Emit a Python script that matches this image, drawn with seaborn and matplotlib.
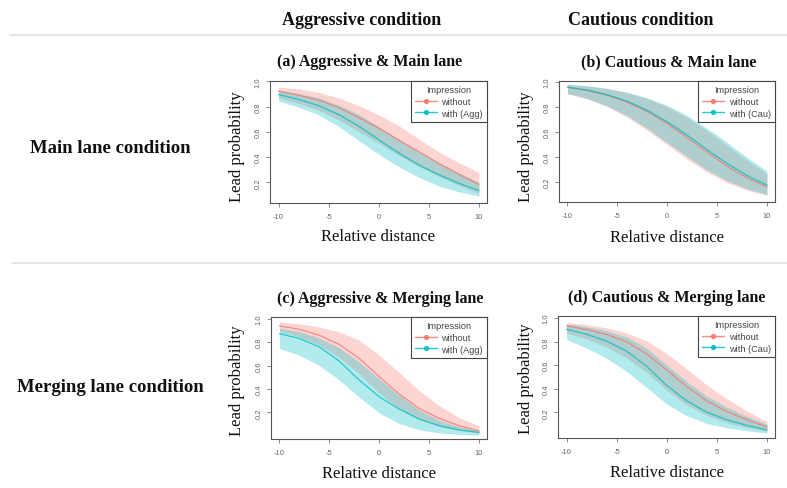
import numpy as np
import pandas as pd
import matplotlib
matplotlib.use("Agg")
import matplotlib.pyplot as plt
from matplotlib.lines import Line2D
import seaborn as sns

# ---------------- data ----------------
x_vals = [-10, -8, -6, -4, -2, 0, 2, 4, 6, 8, 10]
x_ticks = [-10, -5, 0, 5, 10]
x_tick_labels = ["-10", "-5", "0", "5", "10"]
y_ticks = [0.2, 0.4, 0.6, 0.8, 1.0]
y_tick_labels = ["0.2", "0.4", "0.6", "0.8", "1.0"]

col_headers = ["Aggressive condition", "Cautious condition"]
row_headers = ["Main lane condition", "Merging lane condition"]
titles = ["(a) Aggressive & Main lane", "(b) Cautious & Main lane",
          "(c) Aggressive & Merging lane", "(d) Cautious & Merging lane"]
legend_title = "Impression"
series_labels = [["without", "with (Agg)"], ["without", "with (Cau)"],
                 ["without", "with (Agg)"], ["without", "with (Cau)"]]
xlabel = "Relative distance"
ylabel = "Lead probability"

# (a) Aggressive & Main lane
a_without = [0.922, 0.891, 0.852, 0.792, 0.714, 0.630, 0.534, 0.443, 0.349, 0.265, 0.182]
a_without_hi = [0.956, 0.941, 0.912, 0.870, 0.808, 0.735, 0.649, 0.544, 0.440, 0.356, 0.278]
a_without_lo = [0.870, 0.825, 0.772, 0.694, 0.603, 0.510, 0.413, 0.325, 0.246, 0.175, 0.112]
a_with = [0.896, 0.857, 0.808, 0.737, 0.645, 0.537, 0.432, 0.338, 0.260, 0.192, 0.135]
a_with_hi = [0.931, 0.904, 0.869, 0.813, 0.739, 0.640, 0.540, 0.445, 0.354, 0.271, 0.200]
a_with_lo = [0.844, 0.795, 0.735, 0.643, 0.531, 0.422, 0.323, 0.239, 0.170, 0.125, 0.090]

# (b) Cautious & Main lane
b_without = [0.954, 0.929, 0.891, 0.835, 0.760, 0.664, 0.552, 0.435, 0.323, 0.230, 0.157]
b_without_hi = [0.979, 0.965, 0.944, 0.911, 0.864, 0.799, 0.713, 0.608, 0.490, 0.371, 0.263]
b_without_lo = [0.904, 0.861, 0.799, 0.715, 0.611, 0.495, 0.380, 0.277, 0.192, 0.131, 0.089]
b_with = [0.956, 0.932, 0.895, 0.843, 0.770, 0.679, 0.572, 0.455, 0.345, 0.248, 0.172]
b_with_hi = [0.980, 0.966, 0.946, 0.915, 0.871, 0.810, 0.729, 0.627, 0.515, 0.394, 0.285]
b_with_lo = [0.906, 0.865, 0.805, 0.727, 0.625, 0.512, 0.399, 0.293, 0.208, 0.143, 0.098]

# (c) Aggressive & Merging lane
c_without = [0.938, 0.909, 0.858, 0.779, 0.660, 0.504, 0.356, 0.234, 0.149, 0.087, 0.041]
c_without_hi = [0.972, 0.955, 0.929, 0.887, 0.816, 0.688, 0.540, 0.387, 0.257, 0.155, 0.087]
c_without_lo = [0.890, 0.845, 0.775, 0.668, 0.530, 0.365, 0.232, 0.140, 0.080, 0.045, 0.022]
c_with = [0.872, 0.830, 0.759, 0.637, 0.475, 0.333, 0.228, 0.143, 0.087, 0.050, 0.030]
c_with_hi = [0.920, 0.890, 0.835, 0.752, 0.630, 0.485, 0.345, 0.222, 0.135, 0.078, 0.045]
c_with_lo = [0.745, 0.688, 0.600, 0.475, 0.330, 0.195, 0.105, 0.052, 0.025, 0.011, 0.005]

# (d) Cautious & Merging lane
d_without = [0.933, 0.902, 0.860, 0.798, 0.695, 0.559, 0.419, 0.298, 0.208, 0.138, 0.076]
d_without_hi = [0.961, 0.944, 0.916, 0.874, 0.805, 0.699, 0.567, 0.433, 0.315, 0.213, 0.124]
d_without_lo = [0.873, 0.821, 0.754, 0.661, 0.540, 0.387, 0.263, 0.174, 0.115, 0.074, 0.039]
d_with = [0.904, 0.862, 0.803, 0.719, 0.590, 0.428, 0.298, 0.202, 0.138, 0.090, 0.053]
d_with_hi = [0.950, 0.926, 0.892, 0.838, 0.745, 0.600, 0.460, 0.338, 0.244, 0.167, 0.102]
d_with_lo = [0.816, 0.746, 0.659, 0.547, 0.411, 0.270, 0.172, 0.107, 0.070, 0.045, 0.026]

panel_data = [
    (a_without, a_without_lo, a_without_hi, a_with, a_with_lo, a_with_hi),
    (b_without, b_without_lo, b_without_hi, b_with, b_with_lo, b_with_hi),
    (c_without, c_without_lo, c_without_hi, c_with, c_with_lo, c_with_hi),
    (d_without, d_without_lo, d_without_hi, d_with, d_with_lo, d_with_hi),
]

# ---------------- layout / style ----------------
W, H = 787, 489
RED = "#F8766D"
TEAL = "#00BFC4"
SERIF = ["Liberation Serif", "DejaVu Serif"]
SANS = ["Liberation Sans", "DejaVu Sans"]

sns.set_style("white")
plt.rcParams["font.family"] = SANS

fig = plt.figure(figsize=(W / 100, H / 100), dpi=100)
fig.patch.set_facecolor("white")

# axes boxes in pixels: left, top, right, bottom
boxes = [(270, 82, 487, 204), (559, 82, 775, 203),
         (271, 318, 487, 440), (558, 317, 775, 439)]
ylims = [(0.036, 1.003), (0.037, 1.005), (-0.027, 1.014), (-0.016, 1.016)]
title_pos = [(370, 66), (669, 66), (380, 303), (667, 302)]
xlabel_pos = [(378, 241), (667, 242), (379, 478), (667, 477)]
ylabel_pos = [(237, 147), (526, 147), (237, 381), (526, 379)]


def fx(p):
    return p / W


def fy(p):
    return 1 - p / H


for i, (box, data) in enumerate(zip(boxes, panel_data)):
    l, t, r, b = box
    ax = fig.add_axes([fx(l), fy(b), (r - l) / W, (b - t) / H])
    wo, wo_lo, wo_hi, wi, wi_lo, wi_hi = data
    lab_wo, lab_wi = series_labels[i]

    ax.fill_between(x_vals, wo_lo, wo_hi, color=RED, alpha=0.30, lw=0)
    ax.fill_between(x_vals, wi_lo, wi_hi, color=TEAL, alpha=0.30, lw=0)

    df = pd.DataFrame({
        "x": x_vals + x_vals,
        "p": list(wo) + list(wi),
        "Impression": [lab_wo] * len(x_vals) + [lab_wi] * len(x_vals),
    })
    sns.lineplot(data=df, x="x", y="p", hue="Impression",
                 palette={lab_wo: RED, lab_wi: TEAL}, ax=ax, legend=False,
                 lw=0.9, alpha=0.8)

    ax.set_xlim(-10.85, 10.8)
    ax.set_ylim(*ylims[i])
    ax.set_xticks(x_ticks)
    ax.set_xticklabels(x_tick_labels)
    ax.set_yticks(y_ticks)
    ax.set_yticklabels(y_tick_labels, rotation=90, va="center")
    ax.set_xlabel("")
    ax.set_ylabel("")
    ax.tick_params(axis="both", direction="out", length=3, width=0.6,
                   color="#777777", labelsize=5.5, labelcolor="#666666",
                   bottom=True, left=True)
    ax.tick_params(axis="x", pad=4)
    ax.tick_params(axis="y", pad=3)
    for s in ax.spines.values():
        s.set_visible(True)
        s.set_color("#555555")
        s.set_linewidth(0.8)

    handles = [Line2D([], [], color=RED, lw=1, marker="o", markersize=2.8, alpha=0.85),
               Line2D([], [], color=TEAL, lw=1, marker="o", markersize=2.8, alpha=0.85)]
    leg = ax.legend(handles, [lab_wo, lab_wi], title=legend_title,
                    loc="upper right", bbox_to_anchor=(1, 1), borderaxespad=0,
                    fontsize=6.6, title_fontsize=6.6, frameon=True,
                    fancybox=False, framealpha=1, edgecolor="#444444",
                    handlelength=2.4, handletextpad=0.5, labelspacing=0.3,
                    borderpad=0.45)
    leg.get_frame().set_linewidth(0.8)
    leg.get_title().set_color("#444444")
    for txt in leg.get_texts():
        txt.set_color("#444444")

    tx, ty = title_pos[i]
    fig.text(fx(tx), fy(ty), titles[i], ha="center", va="baseline",
             fontsize=11.5, fontweight="bold", family=SERIF, color="#111111")
    xx, xy = xlabel_pos[i]
    fig.text(fx(xx), fy(xy), xlabel, ha="center", va="baseline",
             fontsize=12, family=SERIF, color="#111111")
    yx, yy = ylabel_pos[i]
    fig.text(fx(yx), fy(yy), ylabel, ha="center", va="center", rotation=90,
             fontsize=12, family=SERIF, color="#111111")

# column / row headers
fig.text(fx(362), fy(25), col_headers[0], ha="center", va="baseline",
         fontsize=13, fontweight="bold", family=SERIF, color="#111111")
fig.text(fx(641), fy(25), col_headers[1], ha="center", va="baseline",
         fontsize=13, fontweight="bold", family=SERIF, color="#111111")
fig.text(fx(110), fy(153), row_headers[0], ha="center", va="baseline",
         fontsize=13.5, fontweight="bold", family=SERIF, color="#111111")
fig.text(fx(110), fy(392), row_headers[1], ha="center", va="baseline",
         fontsize=13.5, fontweight="bold", family=SERIF, color="#111111")

# separator lines
fig.add_artist(Line2D([fx(10), 1], [fy(36), fy(36)], color="#e2e2e2", lw=1.2,
                      transform=fig.transFigure))
fig.add_artist(Line2D([fx(12), 1], [fy(264), fy(264)], color="#e2e2e2", lw=1.2,
                      transform=fig.transFigure))

fig.savefig("out.png", dpi=100, facecolor="white")
